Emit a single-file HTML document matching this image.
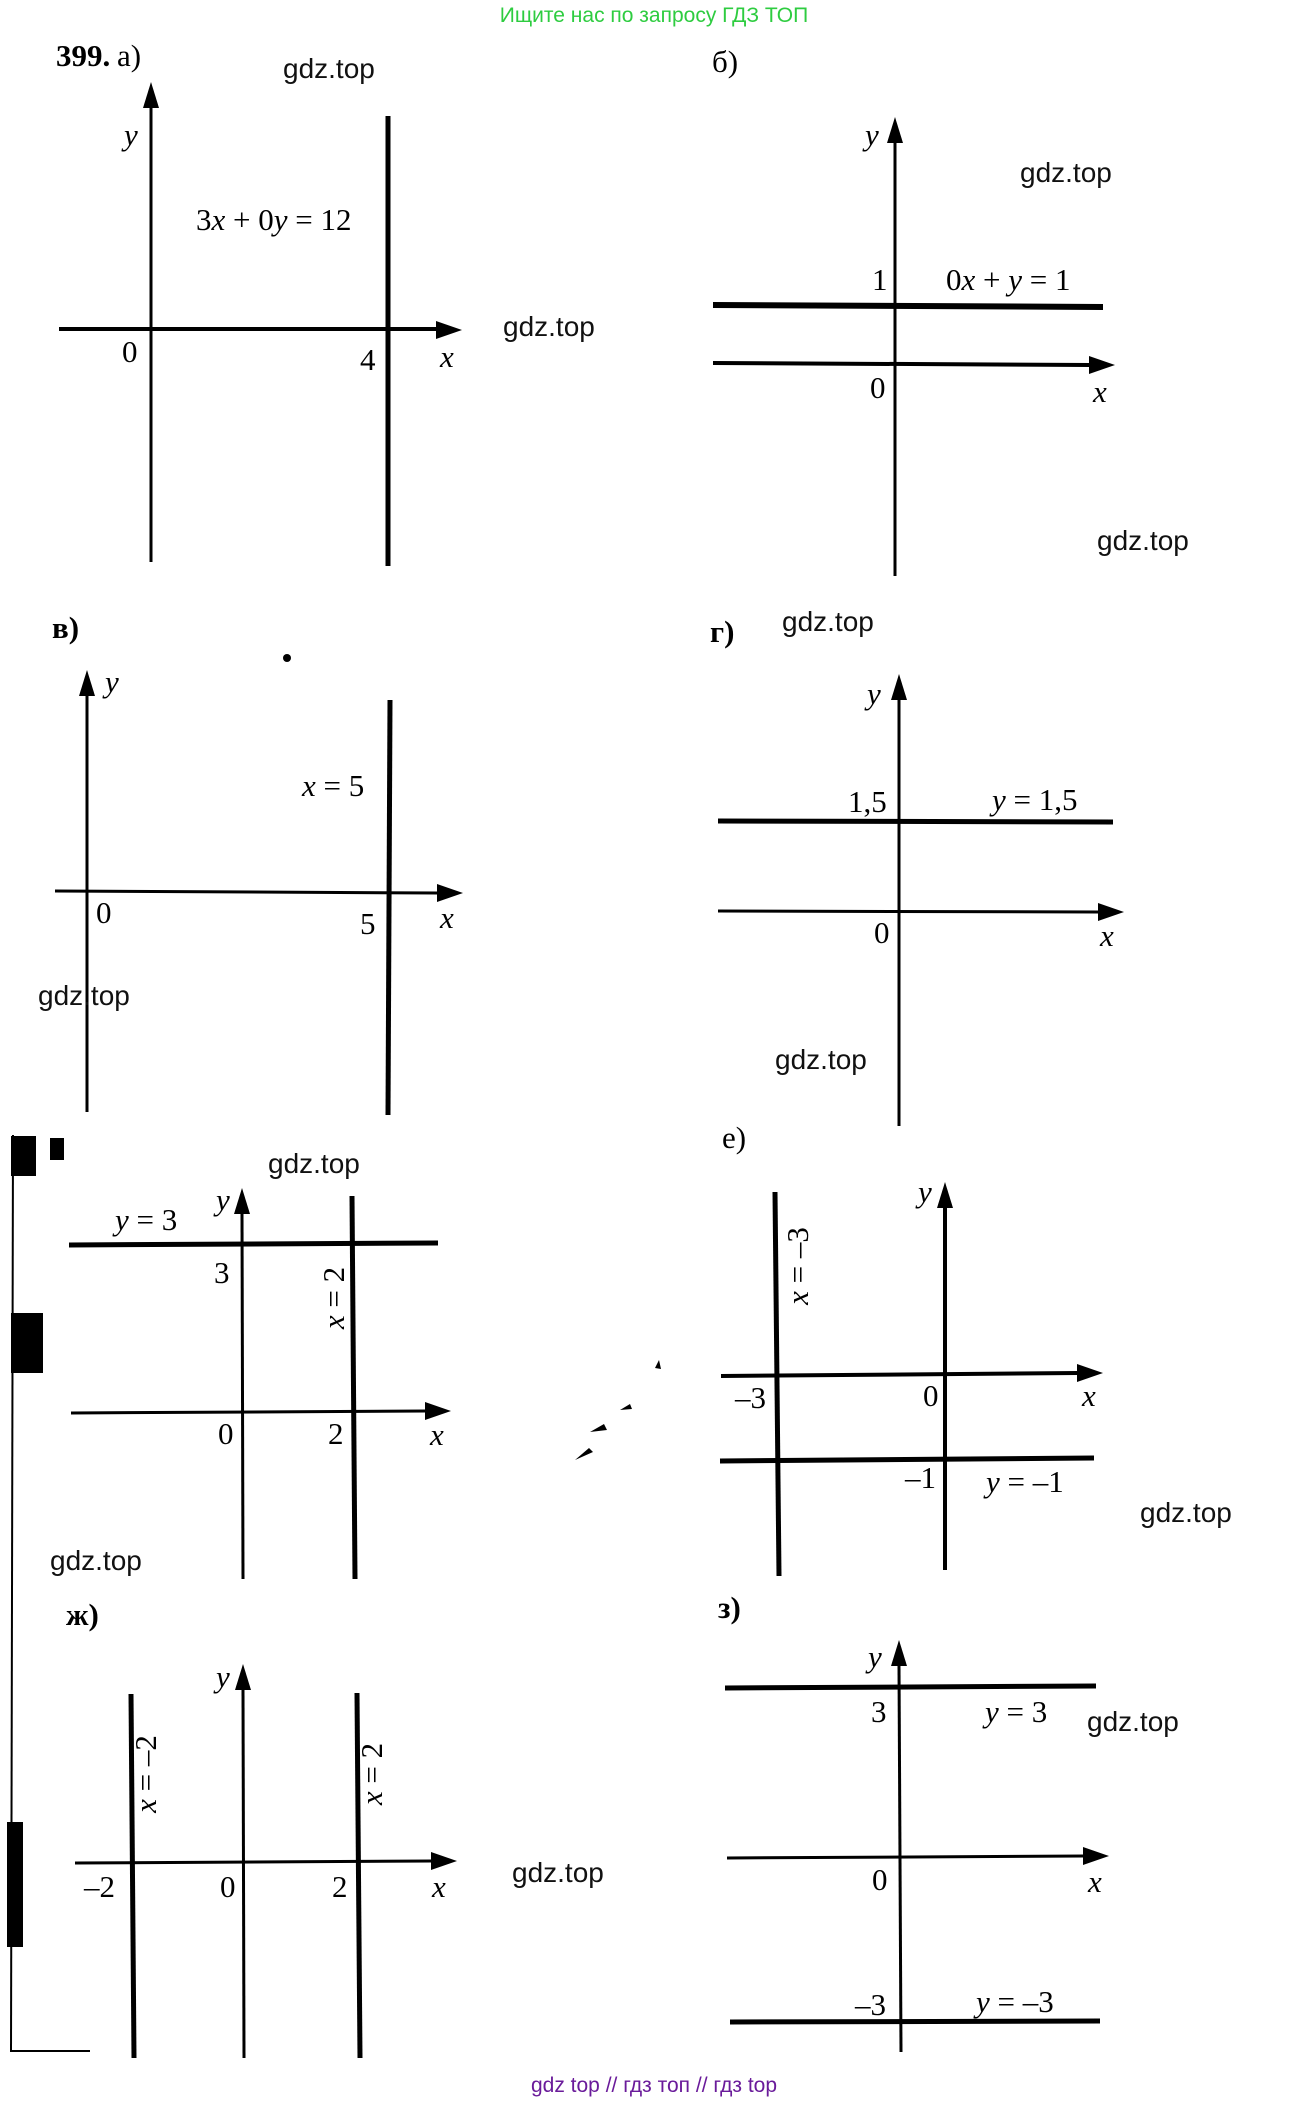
<!DOCTYPE html>
<html><head><meta charset="utf-8"><style>
html,body{margin:0;padding:0;background:#fff;}
svg{display:block}
.m{font-family:"Liberation Serif",serif;font-size:31px;fill:#000}
.i{font-style:italic}
.g{font-family:"Liberation Sans",sans-serif;font-size:28px;fill:#111}
</style></head><body>
<svg width="1308" height="2102" viewBox="0 0 1308 2102" xmlns="http://www.w3.org/2000/svg">
<defs>
<marker id="a" markerWidth="10" markerHeight="8" refX="9" refY="4" orient="auto" markerUnits="userSpaceOnUse" viewBox="0 0 10 8"><path d="M0,0 L10,4 L0,8z"/></marker>
</defs>
<text x="654" y="22" text-anchor="middle" font-family="Liberation Sans,sans-serif" font-size="21" fill="#2ecc40">Ищите нас по запросу ГДЗ ТОП</text>
<g stroke="#000" fill="none">
<!-- a -->
<line x1="151" y1="562" x2="151" y2="108" stroke-width="3"/>
<path d="M151,82 L143,108 L159,108z" fill="#000" stroke="none"/>
<line x1="388" y1="116" x2="388" y2="566" stroke-width="5"/>
<line x1="59" y1="329" x2="437" y2="329" stroke-width="4"/>
<path d="M462,330 L436,321 L436,339z" fill="#000" stroke="none"/>
<!-- b -->
<line x1="895" y1="576" x2="895" y2="142" stroke-width="3"/>
<path d="M895,117 L887,143 L903,143z" fill="#000" stroke="none"/>
<line x1="713" y1="305" x2="1103" y2="307" stroke-width="6"/>
<line x1="713" y1="363" x2="1090" y2="365" stroke-width="4"/>
<path d="M1115,365 L1089,356 L1089,374z" fill="#000" stroke="none"/>
<!-- v -->
<line x1="87" y1="1112" x2="87" y2="696" stroke-width="3"/>
<path d="M87,670 L79,696 L95,696z" fill="#000" stroke="none"/>
<line x1="390" y1="700" x2="388" y2="1115" stroke-width="5"/>
<line x1="55" y1="891" x2="438" y2="893" stroke-width="3"/>
<path d="M463,893 L437,884 L437,902z" fill="#000" stroke="none"/>
<!-- g -->
<line x1="899" y1="1126" x2="899" y2="700" stroke-width="3"/>
<path d="M899,674 L891,700 L907,700z" fill="#000" stroke="none"/>
<line x1="718" y1="821" x2="1113" y2="822" stroke-width="5"/>
<line x1="718" y1="911" x2="1099" y2="912" stroke-width="3"/>
<path d="M1124,912 L1098,903 L1098,921z" fill="#000" stroke="none"/>
<!-- d -->
<line x1="243" y1="1579" x2="242" y2="1214" stroke-width="3"/>
<path d="M242,1188 L234,1214 L250,1214z" fill="#000" stroke="none"/>
<line x1="352" y1="1196" x2="355" y2="1579" stroke-width="5"/>
<line x1="69" y1="1245" x2="438" y2="1243" stroke-width="5"/>
<line x1="71" y1="1413" x2="426" y2="1411" stroke-width="3"/>
<path d="M451,1411 L425,1402 L425,1420z" fill="#000" stroke="none"/>
<!-- e -->
<line x1="945" y1="1570" x2="945" y2="1208" stroke-width="4"/>
<path d="M945,1182 L937,1208 L953,1208z" fill="#000" stroke="none"/>
<line x1="775" y1="1192" x2="779" y2="1576" stroke-width="5"/>
<line x1="721" y1="1376" x2="1078" y2="1373" stroke-width="4"/>
<path d="M1103,1373 L1077,1364 L1077,1382z" fill="#000" stroke="none"/>
<line x1="720" y1="1461" x2="1094" y2="1458" stroke-width="5"/>
<!-- zh -->
<line x1="244" y1="2058" x2="243" y2="1690" stroke-width="3"/>
<path d="M243,1664 L235,1690 L251,1690z" fill="#000" stroke="none"/>
<line x1="131" y1="1694" x2="134" y2="2058" stroke-width="5"/>
<line x1="357" y1="1693" x2="360" y2="2058" stroke-width="5"/>
<line x1="75" y1="1863" x2="432" y2="1861" stroke-width="3"/>
<path d="M457,1861 L431,1852 L431,1870z" fill="#000" stroke="none"/>
<!-- z -->
<line x1="901" y1="2052" x2="899" y2="1666" stroke-width="3"/>
<path d="M899,1640 L891,1666 L907,1666z" fill="#000" stroke="none"/>
<line x1="725" y1="1688" x2="1096" y2="1686" stroke-width="5"/>
<line x1="727" y1="1858" x2="1084" y2="1856" stroke-width="3"/>
<path d="M1109,1856 L1083,1847 L1083,1865z" fill="#000" stroke="none"/>
<line x1="730" y1="2022" x2="1100" y2="2021" stroke-width="5"/>
<!-- scan border -->
<line x1="13" y1="1135" x2="11" y2="2052" stroke-width="2"/>
<line x1="11" y1="2051" x2="90" y2="2051" stroke-width="2"/>
</g>
<g fill="#000">
<rect x="11" y="1136" width="25" height="40"/><rect x="50" y="1138" width="14" height="22"/>
<rect x="11" y="1313" width="32" height="60"/><rect x="7" y="1822" width="16" height="125"/>
<circle cx="287" cy="658" r="4"/>
<path d="M575,1460 l14,-12 l4,4 z M590,1432 l14,-8 l3,6 z M620,1410 l10,-6 l2,5z M655,1368 l4,-8 l2,9z"/>
</g>
<!-- labels -->
<text x="56" y="66" class="m" font-weight="bold">399.</text><text x="117" y="66" class="m">а)</text>
<text x="283" y="78" class="g">gdz.top</text>
<text x="124" y="145" class="m i">y</text>
<text x="196" y="230" class="m">3<tspan class="i">x</tspan> + 0<tspan class="i">y</tspan> = 12</text>
<text x="122" y="362" class="m">0</text><text x="360" y="370" class="m">4</text><text x="440" y="367" class="m i">x</text>
<text x="503" y="336" class="g">gdz.top</text>
<text x="712" y="72" class="m">б)</text>
<text x="865" y="145" class="m i">y</text>
<text x="1020" y="182" class="g">gdz.top</text>
<text x="872" y="290" class="m">1</text>
<text x="946" y="290" class="m">0<tspan class="i">x</tspan> + <tspan class="i">y</tspan> = 1</text>
<text x="870" y="398" class="m">0</text><text x="1093" y="402" class="m i">x</text>
<text x="1097" y="550" class="g">gdz.top</text>
<text x="52" y="638" class="m" font-weight="bold">в)</text>
<text x="105" y="692" class="m i">y</text>
<text x="302" y="796" class="m"><tspan class="i">x</tspan> = 5</text>
<text x="96" y="923" class="m">0</text><text x="360" y="934" class="m">5</text><text x="440" y="928" class="m i">x</text>
<text x="38" y="1005" class="g">gdz.top</text>
<text x="710" y="642" class="m" font-weight="bold">г)</text>
<text x="782" y="631" class="g">gdz.top</text>
<text x="867" y="704" class="m i">y</text>
<text x="848" y="812" class="m">1,5</text>
<text x="992" y="810" class="m"><tspan class="i">y</tspan> = 1,5</text>
<text x="874" y="943" class="m">0</text><text x="1100" y="946" class="m i">x</text>
<text x="775" y="1069" class="g">gdz.top</text>
<text x="268" y="1173" class="g">gdz.top</text>
<text x="115" y="1230" class="m"><tspan class="i">y</tspan> = 3</text>
<text x="216" y="1210" class="m i">y</text>
<text x="214" y="1283" class="m">3</text>
<text transform="translate(344,1298) rotate(-90)" text-anchor="middle" class="m"><tspan class="i">x</tspan> = 2</text>
<text x="218" y="1444" class="m">0</text><text x="328" y="1444" class="m">2</text><text x="430" y="1445" class="m i">x</text>
<text x="50" y="1570" class="g">gdz.top</text>
<text x="722" y="1148" class="m">е)</text>
<text x="918" y="1202" class="m i">y</text>
<text transform="translate(808,1266) rotate(-90)" text-anchor="middle" class="m"><tspan class="i">x</tspan> = –3</text>
<text x="735" y="1408" class="m">–3</text><text x="923" y="1406" class="m">0</text><text x="1082" y="1406" class="m i">x</text>
<text x="905" y="1488" class="m">–1</text><text x="986" y="1492" class="m"><tspan class="i">y</tspan> = –1</text>
<text x="1140" y="1522" class="g">gdz.top</text>
<text x="66" y="1625" class="m" font-weight="bold">ж)</text>
<text x="216" y="1687" class="m i">y</text>
<text transform="translate(156,1774) rotate(-90)" text-anchor="middle" class="m"><tspan class="i">x</tspan> = –2</text>
<text transform="translate(382,1774) rotate(-90)" text-anchor="middle" class="m"><tspan class="i">x</tspan> = 2</text>
<text x="84" y="1897" class="m">–2</text><text x="220" y="1897" class="m">0</text><text x="332" y="1897" class="m">2</text><text x="432" y="1897" class="m i">x</text>
<text x="512" y="1882" class="g">gdz.top</text>
<text x="718" y="1618" class="m" font-weight="bold">з)</text>
<text x="868" y="1667" class="m i">y</text>
<text x="871" y="1722" class="m">3</text><text x="985" y="1722" class="m"><tspan class="i">y</tspan> = 3</text>
<text x="1087" y="1731" class="g">gdz.top</text>
<text x="872" y="1890" class="m">0</text><text x="1088" y="1892" class="m i">x</text>
<text x="855" y="2015" class="m">–3</text><text x="976" y="2012" class="m"><tspan class="i">y</tspan> = –3</text>
<text x="654" y="2092" text-anchor="middle" font-family="Liberation Sans,sans-serif" font-size="21" fill="#6a1b9a">gdz top  //  гдз топ  //  гдз top</text>
</svg>
</body></html>
